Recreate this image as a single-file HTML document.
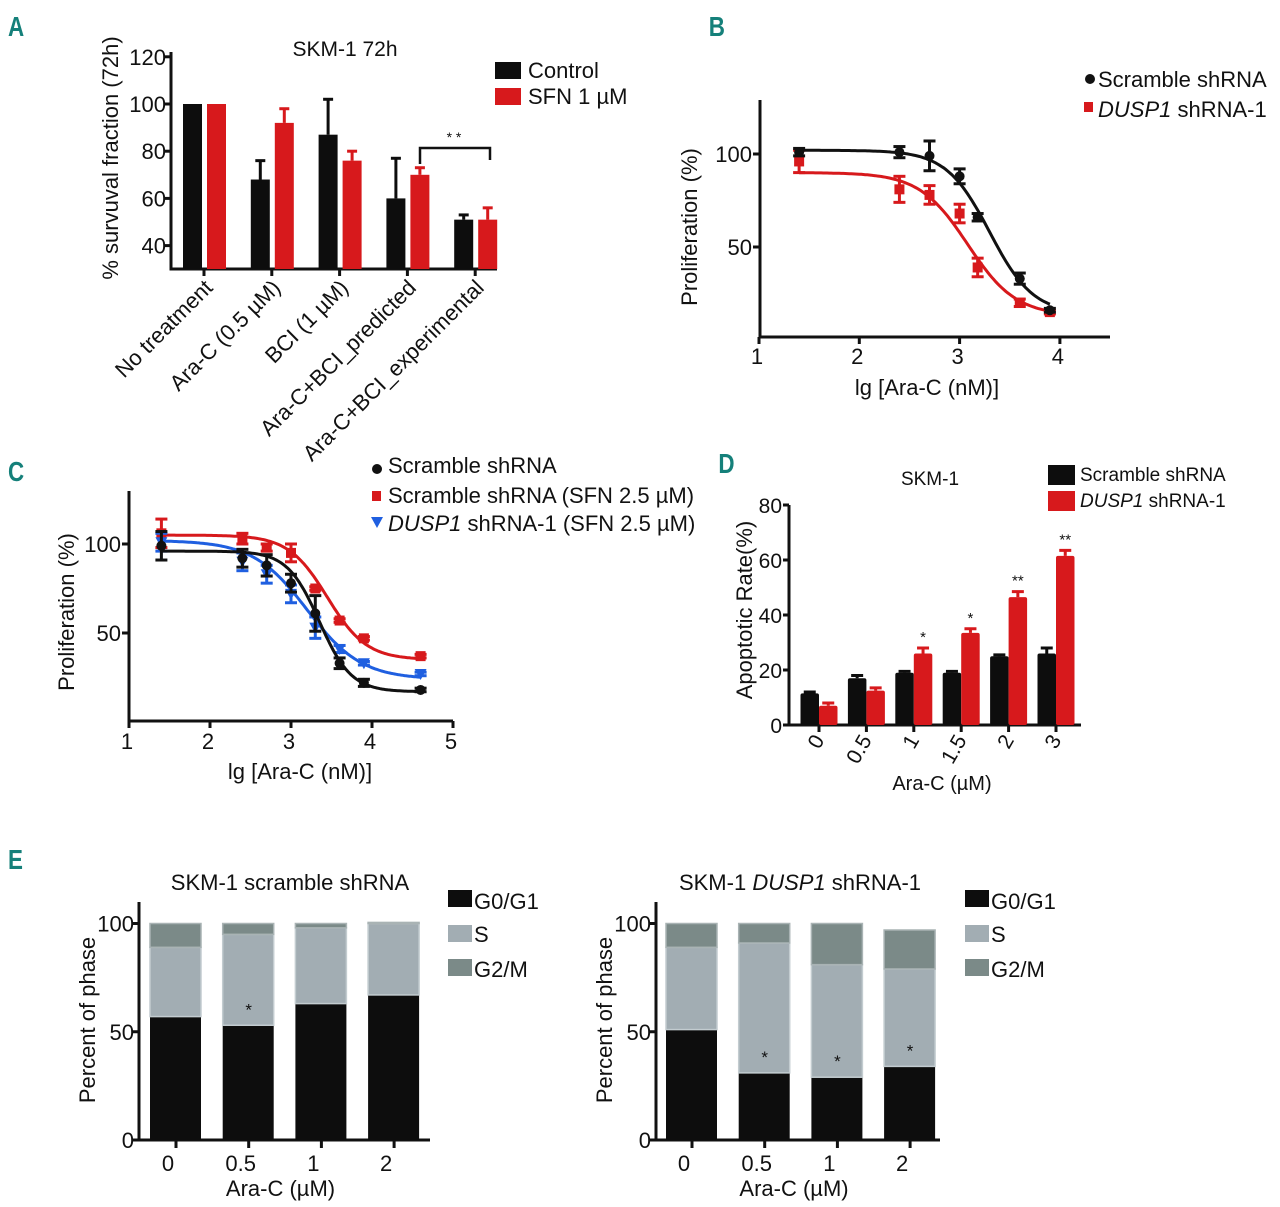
<!DOCTYPE html>
<html><head><meta charset="utf-8"><style>
html,body{margin:0;padding:0;background:#fff;}
svg{display:block;font-family:"Liberation Sans",sans-serif;}
.letter{font-family:"Liberation Sans",sans-serif;font-weight:bold;fill:#15807a;}
</style></head><body>
<svg id="fig" width="1280" height="1207" viewBox="0 0 1280 1207" xmlns="http://www.w3.org/2000/svg">
<text class="letter" x="8" y="36" font-size="28" transform="scale(0.8,1) translate(2,0)">A</text>
<text class="letter" x="886" y="36" font-size="28" transform="scale(0.8,1)">B</text>
<text class="letter" x="10" y="481" font-size="28" transform="scale(0.8,1)">C</text>
<text class="letter" x="898" y="473" font-size="28" transform="scale(0.8,1)">D</text>
<text class="letter" x="10" y="869" font-size="28" transform="scale(0.8,1)">E</text>
</svg>
<script>
// ---------- Panel A data ----------
const aCategories = ["No treatment","Ara-C (0.5 µM)","BCI (1 µM)","Ara-C+BCI_predicted","Ara-C+BCI_experimental"];
const aControl = [100, 68, 87, 60, 51];
const aControlErr = [0, 8, 15, 17, 2];
const aSFN = [100, 92, 76, 70, 51];
const aSFNErr = [0, 6, 4, 3, 5];
const aTicks = [40, 60, 80, 100, 120];
// ---------- Panel B data ----------
const bX = [1.4, 2.4, 2.7, 3.0, 3.18, 3.6, 3.9];
const bScramble = [101, 101, 99, 88, 66, 33, 16];
const bScrambleErr = [2, 3, 8, 4, 2, 3, 1];
const bDusp = [96, 81, 78, 68, 39, 20, 15];
const bDuspErr = [6, 7, 5, 5, 5, 2, 1];
const bScrambleFit = [102, 14, 3.3, 2.0];
const bDuspFit = [90, 13, 3.08, 1.8];
const bXTicks = [1, 2, 3, 4];
const bYTicks = [50, 100];
// ---------- Panel C data ----------
const cX = [1.4, 2.4, 2.7, 3.0, 3.3, 3.6, 3.9, 4.6];
const cScramble = [99, 92, 88, 78, 61, 33, 22, 18];
const cScrambleErr = [8, 5, 6, 5, 10, 3, 2, 1];
const cScrambleSFN = [106, 103, 98, 95, 75, 57, 47, 37];
const cScrambleSFNErr = [8, 3, 2, 5, 1, 1, 1, 1];
const cDuspSFN = [101, 90, 83, 72, 53, 41, 33, 27];
const cDuspSFNErr = [5, 5, 5, 5, 6, 2, 1, 1];
const cScrambleFit = [96, 17, 3.35, 2.2];
const cScrambleSFNFit = [105, 35, 3.45, 1.8];
const cDuspSFNFit = [102, 24, 3.2, 1.3];
const cXTicks = [1, 2, 3, 4, 5];
const cYTicks = [50, 100];
// ---------- Panel D data ----------
const dCategories = ["0","0.5","1","1.5","2","3"];
const dScramble = [11.5, 17, 19, 19, 25, 26];
const dScrambleErr = [0.5, 1, 0.5, 0.5, 0.5, 2];
const dDusp = [7, 12.5, 26, 33.5, 46.5, 61.5];
const dDuspErr = [1, 1, 2, 1.5, 2, 2];
const dStars = ["", "", "*", "*", "**", "**"];
const dYTicks = [0, 20, 40, 60, 80];
// ---------- Panel E data ----------
const eCategories = ["0","0.5","1","2"];
const eLeftG1 = [57, 53, 63, 67];
const eLeftS = [32, 42, 35, 33];
const eLeftG2M = [11, 5, 2, 0.5];
const eLeftStars = ["", "*", "", ""];
const eRightG1 = [51, 31, 29, 34];
const eRightS = [38, 60, 52, 45];
const eRightG2M = [11, 9, 19, 18];
const eRightStars = ["", "*", "*", "*"];
const eYTicks = [0, 50, 100];

const svg = document.getElementById('fig');
const NS = "http://www.w3.org/2000/svg";
function mk(tag, attrs, parent) {
  const el = document.createElementNS(NS, tag);
  for (const k in attrs) el.setAttribute(k, attrs[k]);
  (parent || svg).appendChild(el);
  return el;
}
function txt(x, y, s, size, anchor, extra) {
  const el = mk('text', Object.assign({x: x, y: y, 'font-size': size, 'text-anchor': anchor || 'start', fill: '#111'}, extra || {}));
  el.textContent = s;
  return el;
}
function line(x1, y1, x2, y2, col, w) {
  return mk('line', {x1: x1, y1: y1, x2: x2, y2: y2, stroke: col || '#111', 'stroke-width': w || 3});
}
function sig(x, p) { return p[1] + (p[0] - p[1]) / (1 + Math.pow(10, (x - p[2]) * p[3])); }

// ================= Panel A =================
(function () {
  const y0 = 104, k = 2.36;
  const ay = v => y0 + (100 - v) * k;
  const ax = i => 204 + i * 67.8;
  const bottom = 269;
  let el;
  el = line(171, 52, 171, bottom + 1.5);
   
  el = line(169.5, bottom, 497, bottom);
   
  aTicks.forEach(t => {
    el = line(165, ay(t), 171, ay(t));
     
    el = txt(166, ay(t) + 8, String(t), 22, 'end');
     
  });
  aCategories.forEach((c, i) => {
    const cx = ax(i);
    el = line(cx, bottom, cx, bottom + 7);
     
    el = txt(cx + 10, bottom + 20, c, 22, 'end', {transform: 'rotate(-45 ' + (cx + 10) + ' ' + (bottom + 20) + ')'});
     
    const bx = cx - 21, rx = cx + 3, w = 19;
    el = mk('rect', {x: bx, y: ay(aControl[i]), width: w, height: bottom - ay(aControl[i]), fill: '#0d0d0d'});
     
    if (aControlErr[i] > 0) {
      el = line(bx + w / 2, ay(aControl[i]), bx + w / 2, ay(aControl[i] + aControlErr[i]), '#0d0d0d', 3);
       
      el = line(bx + w / 2 - 5, ay(aControl[i] + aControlErr[i]), bx + w / 2 + 5, ay(aControl[i] + aControlErr[i]), '#0d0d0d', 3);
       
    }
    el = mk('rect', {x: rx, y: ay(aSFN[i]), width: w, height: bottom - ay(aSFN[i]), fill: '#d7191c'});
     
    if (aSFNErr[i] > 0) {
      el = line(rx + w / 2, ay(aSFN[i]), rx + w / 2, ay(aSFN[i] + aSFNErr[i]), '#d7191c', 3);
       
      el = line(rx + w / 2 - 5, ay(aSFN[i] + aSFNErr[i]), rx + w / 2 + 5, ay(aSFN[i] + aSFNErr[i]), '#d7191c', 3);
       
    }
  });
  el = mk('path', {d: 'M420 164 V148 H490 V160', fill: 'none', stroke: '#111', 'stroke-width': 2.5});
   
  el = txt(454, 142, '* *', 14, 'middle');
   
  el = txt(345, 56, 'SKM-1 72h', 21, 'middle');
   
  el = txt(0, 0, '% survuval fraction (72h)', 22, 'middle', {transform: 'translate(118,158) rotate(-90)'});
   
  el = mk('rect', {x: 495, y: 62, width: 26, height: 17, fill: '#0d0d0d'});
   
  el = txt(528, 78, 'Control', 22);
   
  el = mk('rect', {x: 495, y: 88, width: 26, height: 17, fill: '#d7191c'});
   
  el = txt(528, 104, 'SFN 1 µM', 22);
   
})();

// ============ dose-response helper ============
function marker(shape, x, y, col, name) {
  let el;
  if (shape === 'circle') el = mk('circle', {cx: x, cy: y, r: 5, fill: col});
  else if (shape === 'square') el = mk('rect', {x: x - 5, y: y - 5, width: 10, height: 10, fill: col});
  else el = mk('path', {d: 'M' + (x - 6) + ' ' + (y - 5) + ' L' + (x + 6) + ' ' + (y - 5) + ' L' + x + ' ' + (y + 6) + ' Z', fill: col});
   
}
function doseSeries(xs, ys, errs, fit, sx, sy, col, shape, nm) {
  let d = '';
  for (let x = xs[0]; x <= xs[xs.length - 1] + 0.001; x += 0.02) d += (d ? ' L' : 'M') + sx(x).toFixed(1) + ' ' + sy(sig(x, fit)).toFixed(1);
  let el = mk('path', {d: d, fill: 'none', stroke: col, 'stroke-width': 3});
   
  xs.forEach((x, i) => {
    const px = sx(x);
    if (errs[i] > 0.5) {
      el = line(px, sy(ys[i] - errs[i]), px, sy(ys[i] + errs[i]), col, 3);
       
      el = line(px - 6, sy(ys[i] + errs[i]), px + 6, sy(ys[i] + errs[i]), col, 3);
       
      el = line(px - 6, sy(ys[i] - errs[i]), px + 6, sy(ys[i] - errs[i]), col, 3);
       
    }
    marker(shape, px, sy(ys[i]), col, nm + '-point');
  });
}

// ================= Panel B =================
(function () {
  const sx = v => 759 + (v - 1) * 100.3;
  const sy = v => 154 + (100 - v) * 1.86;
  let el;
  el = line(760, 100, 760, 338.5);
   
  el = line(758.5, 337, 1110, 337);
   
  bYTicks.forEach(t => {
    el = line(753, sy(t), 760, sy(t));
     
    el = txt(752, sy(t) + 8, String(t), 22, 'end');
     
  });
  bXTicks.forEach(t => {
    el = line(sx(t), 337, sx(t), 344);
     
    el = txt(sx(t) - 2, 364, String(t), 22, 'middle');
     
  });
  doseSeries(bX, bDusp, bDuspErr, bDuspFit, sx, sy, '#d7191c', 'square', 'b-dusp1');
  doseSeries(bX, bScramble, bScrambleErr, bScrambleFit, sx, sy, '#111', 'circle', 'b-scramble');
  el = txt(927, 395, 'lg [Ara-C (nM)]', 22, 'middle');
   
  el = txt(0, 0, 'Proliferation (%)', 22, 'middle', {transform: 'translate(697,227) rotate(-90)'});
   
  marker('circle', 1090, 79, '#111', 'b-legend-marker-scramble');
  el = txt(1098, 87, 'Scramble shRNA', 22);
   
  el = mk('rect', {x: 1084, y: 102, width: 9, height: 10, fill: '#d7191c'});
   
  el = txt(1098, 117, '', 22);
  el.innerHTML = '<tspan font-style="italic">DUSP1</tspan> shRNA-1';
   
})();

// ================= Panel C =================
(function () {
  const sx = v => 129 + (v - 1) * 81;
  const sy = v => 544 + (100 - v) * 1.78;
  let el;
  el = line(129, 491, 129, 722.5);
   
  el = line(127.5, 721, 453, 721);
   
  cYTicks.forEach(t => {
    el = line(122, sy(t), 129, sy(t));
     
    el = txt(121, sy(t) + 8, String(t), 22, 'end');
     
  });
  cXTicks.forEach(t => {
    el = line(sx(t), 721, sx(t), 728);
     
    el = txt(sx(t) - 2, 749, String(t), 22, 'middle');
     
  });
  doseSeries(cX, cScrambleSFN, cScrambleSFNErr, cScrambleSFNFit, sx, sy, '#d7191c', 'square', 'c-scramble-sfn');
  doseSeries(cX, cDuspSFN, cDuspSFNErr, cDuspSFNFit, sx, sy, '#1f5fe0', 'triangle', 'c-dusp1-sfn');
  doseSeries(cX, cScramble, cScrambleErr, cScrambleFit, sx, sy, '#111', 'circle', 'c-scramble');
  el = txt(300, 779, 'lg [Ara-C (nM)]', 22, 'middle');
   
  el = txt(0, 0, 'Proliferation (%)', 22, 'middle', {transform: 'translate(74,612) rotate(-90)'});
   
  marker('circle', 377, 469, '#111', 'c-legend-marker-scramble');
  el = txt(388, 473, 'Scramble shRNA', 22);
   
  el = mk('rect', {x: 372, y: 491, width: 9, height: 10, fill: '#d7191c'});
   
  el = txt(388, 503, 'Scramble shRNA (SFN 2.5 µM)', 22);
   
  marker('triangle', 377, 522, '#1f5fe0', 'c-legend-marker-dusp1-sfn');
  el = txt(388, 531, '', 22);
  el.innerHTML = '<tspan font-style="italic">DUSP1</tspan> shRNA-1 (SFN 2.5 µM)';
   
})();

// ================= Panel D =================
(function () {
  const base = 725;
  const sy = v => base - v * 2.75;
  const sx = i => 819 + i * 47.4;
  let el;
  el = line(789, 505, 789, 726.5);
   
  el = line(787.5, 725, 1081, 725);
   
  dYTicks.forEach(t => {
    el = line(783, sy(t), 789, sy(t));
     
    el = txt(782, sy(t) + 8, String(t), 21, 'end');
     
  });
  dCategories.forEach((c, i) => {
    const cx = sx(i);
    el = line(cx, 725, cx, 732);
     
    el = txt(cx + 6, 740, c, 21, 'end', {transform: 'rotate(-60 ' + (cx + 6) + ' 740)'});
     
    const w = 18.5;
    el = mk('rect', {x: cx - w, y: sy(dScramble[i]), width: w, height: base - sy(dScramble[i]), fill: '#0d0d0d', rx: 2});
     
    el = line(cx - w / 2, sy(dScramble[i]), cx - w / 2, sy(dScramble[i] + dScrambleErr[i]), '#0d0d0d', 3);
     
    el = line(cx - w / 2 - 6, sy(dScramble[i] + dScrambleErr[i]), cx - w / 2 + 6, sy(dScramble[i] + dScrambleErr[i]), '#0d0d0d', 3);
     
    el = mk('rect', {x: cx, y: sy(dDusp[i]), width: w, height: base - sy(dDusp[i]), fill: '#d7191c', rx: 2});
     
    el = line(cx + w / 2, sy(dDusp[i]), cx + w / 2, sy(dDusp[i] + dDuspErr[i]), '#d7191c', 3);
     
    el = line(cx + w / 2 - 6, sy(dDusp[i] + dDuspErr[i]), cx + w / 2 + 6, sy(dDusp[i] + dDuspErr[i]), '#d7191c', 3);
     
    if (dStars[i]) {
      el = txt(cx + w / 2, sy(dDusp[i] + dDuspErr[i]) - 6, dStars[i], 15, 'middle');
       
    }
  });
  el = txt(930, 485, 'SKM-1', 19, 'middle');
   
  el = txt(942, 790, 'Ara-C (µM)', 20, 'middle');
   
  el = txt(0, 0, 'Apoptotic Rate(%)', 22, 'middle', {transform: 'translate(752,610) rotate(-90)'});
   
  el = mk('rect', {x: 1048, y: 465, width: 27, height: 20, fill: '#0d0d0d'});
   
  el = txt(1080, 481, 'Scramble shRNA', 19);
   
  el = mk('rect', {x: 1048, y: 491, width: 27, height: 20, fill: '#d7191c'});
   
  el = txt(1080, 507, '', 19);
  el.innerHTML = '<tspan font-style="italic">DUSP1</tspan> shRNA-1';
   
})();

// ================= Panel E =================
function stackPanel(pre, ax0, axEnd, ticks0, g1, s, g2, stars, titleHTML, titleX, legX) {
  const base = 1140, top = 902;
  const sy = v => base - v * 2.165;
  const sx = i => ticks0 + i * 72.7;
  let el;
  el = line(ax0, top, ax0, base + 1.5);
   
  el = line(ax0 - 1.5, base, axEnd, base);
   
  eYTicks.forEach(t => {
    el = line(ax0 - 7, sy(t), ax0, sy(t));
     
    el = txt(ax0 - 5, sy(t) + 8, String(t), 22, 'end');
     
  });
  eCategories.forEach((c, i) => {
    const cx = sx(i), w = 51, x = cx - 26;
    el = line(cx, base, cx, base + 8);
     
    el = txt(cx - 8, 1171, c, 22, 'middle');
     
    el = mk('rect', {x: x, y: sy(g1[i]), width: w, height: base - sy(g1[i]), fill: '#0d0d0d'});
     
    el = mk('rect', {x: x, y: sy(g1[i] + s[i]), width: w, height: sy(g1[i]) - sy(g1[i] + s[i]), fill: '#a2adb3', stroke: '#c3ccd0', 'stroke-width': 1.5});
     
    el = mk('rect', {x: x, y: sy(g1[i] + s[i] + g2[i]), width: w, height: sy(g1[i] + s[i]) - sy(g1[i] + s[i] + g2[i]), fill: '#7b8a88', stroke: '#a9b3b4', 'stroke-width': 1.5});
     
    if (stars[i]) {
      el = txt(cx, sy(g1[i]) - 10, stars[i], 17, 'middle');
       
    }
  });
  el = txt(titleX, 890, '', 22, 'middle');
  el.innerHTML = titleHTML;
   
  el = txt((ax0 + axEnd) / 2 - 4, 1196, 'Ara-C (µM)', 22, 'middle');
   
  el = txt(0, 0, 'Percent of phase', 22, 'middle', {transform: 'translate(' + (ax0 - 44) + ',1020) rotate(-90)'});
   
  const legs = [['G0/G1', '#0d0d0d', 892, 908], ['S', '#a2adb3', 927, 941], ['G2/M', '#7b8a88', 961, 976]];
  legs.forEach(lg => {
    el = mk('rect', {x: legX, y: lg[2] - 2, width: 24, height: 17, fill: lg[1]});
     
    el = txt(legX + 26, lg[3] + 1, lg[0], 22);
     
  });
}
stackPanel('e-left', 139, 430, 176, eLeftG1, eLeftS, eLeftG2M, eLeftStars, 'SKM-1 scramble shRNA', 290, 448);
stackPanel('e-right', 656, 940, 692, eRightG1, eRightS, eRightG2M, eRightStars, 'SKM-1 <tspan font-style="italic">DUSP1</tspan> shRNA-1', 800, 965);
</script>
</body></html>
